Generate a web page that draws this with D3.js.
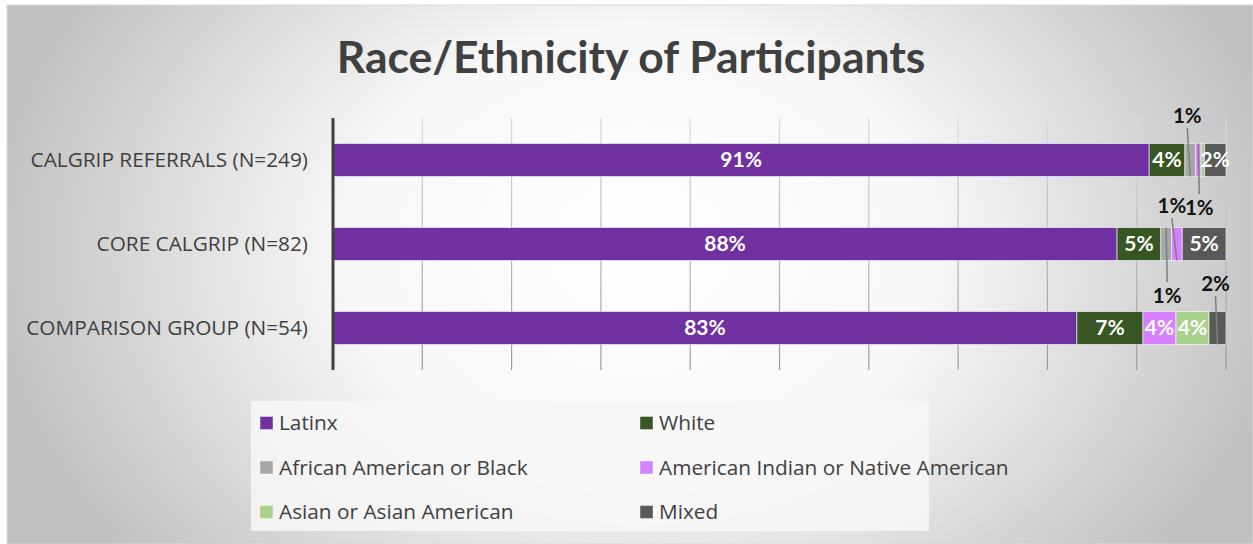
<html>
<head>
<style>
  body { margin: 0; background: #fff; }
  svg text { font-family: "Open Sans", Lato, sans-serif; }
</style>
</head>
<body>
  <div id = 'chart'></div>
  <script src = 'https://d3js.org/d3.v7.min.js'></script>
  <script>
    // groups (top to bottom)
    var groups = ['CALGRIP REFERRALS (N=249)', 'CORE CALGRIP (N=82)', 'COMPARISON GROUP (N=54)'];
    // series names, in stacking order
    var seriesNames = ['Latinx', 'White', 'African American or Black', 'American Indian or Native American', 'Asian or Asian American', 'Mixed'];
    var seriesColors = ['#7030a0', '#375623', '#a6a6a6', '#d580ff', '#a9d18e', '#595959'];
    // percent values per series, one per group
    var latinx   = [91.4, 87.8, 83.3];
    var white    = [4.0, 4.9, 7.4];
    var africanAm = [1.2, 1.2, 0];
    var amIndian = [0.6, 1.2, 3.7];
    var asian    = [0.4, 0, 3.7];
    var mixed    = [2.4, 4.9, 1.9];
    var xTicks = [10, 20, 30, 40, 50, 60, 70, 80, 90, 100];

    var seriesValues = [latinx, white, africanAm, amIndian, asian, mixed];

    // labels of thin segments sit outside the bar, with a leader line
    // key: group index + '-' + series index -> label offset from segment centre
    var outsideLabels = {
      '0-2': {dx: -3, dy: -44},
      '0-3': {dx: 1, dy: 48},
      '1-2': {dx: 1, dy: 52},
      '1-3': {dx: -5, dy: -38},
      '2-5': {dx: -2, dy: -44}
    };

    var width = 1253, height = 544;
    var svg = d3.select('#chart').append('svg')
      .attr('width', width)
      .attr('height', height);

    var defs = svg.append('defs');
    var bg = defs.append('radialGradient')
      .attr('id', 'bg')
      .attr('gradientUnits', 'userSpaceOnUse')
      .attr('cx', 640).attr('cy', 250).attr('r', 660)
      .attr('gradientTransform', 'translate(640,250) scale(1,0.75) translate(-640,-250)');
    bg.append('stop').attr('offset', '0').attr('stop-color', '#ffffff');
    bg.append('stop').attr('offset', '0.45').attr('stop-color', '#f7f7f7');
    bg.append('stop').attr('offset', '1').attr('stop-color', '#c0c0c0');

    var gridGrad = defs.append('linearGradient')
      .attr('id', 'grid')
      .attr('gradientUnits', 'userSpaceOnUse')
      .attr('x1', 0).attr('y1', 118).attr('x2', 0).attr('y2', 370);
    gridGrad.append('stop').attr('offset', '0').attr('stop-color', '#dadada');
    gridGrad.append('stop').attr('offset', '1').attr('stop-color', '#9a9a9a');

    svg.append('rect')
      .attr('x', 7).attr('y', 5)
      .attr('width', width - 7).attr('height', height - 5)
      .attr('fill', 'url(#bg)')
      .attr('stroke', '#d9d9d9')
      .attr('stroke-width', 1);

    // title
    svg.append('text')
      .attr('x', 631)
      .attr('y', 73)
      .attr('text-anchor', 'middle')
      .attr('font-size', 44.5)
      .attr('font-weight', 'bold')
      .attr('fill', '#404040')
      .style('font-family', 'Lato, sans-serif')
      .text('Race/Ethnicity of Participants');

    var x = d3.scaleLinear().domain([0, 100]).range([333, 1226]);
    var y = d3.scaleBand().domain(groups).range([118, 370])
      .paddingInner(0.607).paddingOuter(0.3035);

    // gridlines
    svg.append('g').selectAll('line')
      .data(xTicks)
      .enter()
      .append('line')
      .attr('x1', function(d){ return x(d); })
      .attr('x2', function(d){ return x(d); })
      .attr('y1', 118)
      .attr('y2', 370)
      .attr('stroke', 'url(#grid)')
      .attr('stroke-width', 1.2);

    // stacked data
    var rows = groups.map(function(g, i){
      var row = {group: g};
      seriesNames.forEach(function(s, j){ row[s] = seriesValues[j][i]; });
      return row;
    });
    var stacked = d3.stack().keys(seriesNames)(rows);

    var layer = svg.append('g').selectAll('g')
      .data(stacked)
      .enter()
      .append('g')
      .attr('fill', function(d, j){ return seriesColors[j]; });

    layer.selectAll('rect')
      .data(function(d){ return d.filter(function(p){ return p[1] - p[0] > 0; }); })
      .enter()
      .append('rect')
      .attr('x', function(d){ return x(d[0]); })
      .attr('y', function(d){ return y(d.data.group); })
      .attr('width', function(d){ return x(d[1]) - x(d[0]); })
      .attr('height', y.bandwidth())
      .attr('stroke', 'rgba(255,255,255,0.6)')
      .attr('stroke-width', 1);

    // value labels
    var labelGroup = svg.append('g');
    stacked.forEach(function(series, j){
      series.forEach(function(p, i){
        var v = p[1] - p[0];
        if (v < 0.5) return;
        var txt = Math.round(v) + '%';
        var cx = x((p[0] + p[1]) / 2);
        var cy = y(p.data.group) + y.bandwidth() / 2;
        var off = outsideLabels[i + '-' + j];
        if (off) {
          var lx = cx + off.dx, ly = cy + off.dy;
          var edge = off.dy < 0 ? y(p.data.group) + y.bandwidth() : y(p.data.group);
          labelGroup.append('line')
            .attr('x1', lx).attr('y1', off.dy < 0 ? ly + 12 : ly - 14)
            .attr('x2', cx).attr('y2', edge)
            .attr('stroke', '#7f7f7f')
            .attr('stroke-width', 1.5);
          labelGroup.append('text')
            .attr('x', lx).attr('y', ly)
            .attr('dy', '0.35em')
            .attr('text-anchor', 'middle')
            .attr('font-size', 20.5)
            .attr('font-weight', 'bold')
            .attr('fill', '#111')
            .style('font-family', 'Lato, sans-serif')
            .text(txt);
        } else {
          labelGroup.append('text')
            .attr('x', cx).attr('y', cy)
            .attr('dy', '0.35em')
            .attr('text-anchor', 'middle')
            .attr('font-size', 21)
            .attr('font-weight', 'bold')
            .attr('fill', '#fff')
            .style('font-family', 'Lato, sans-serif')
            .text(txt);
        }
      });
    });

    // y axis line and category labels
    svg.append('line')
      .attr('x1', 333).attr('x2', 333)
      .attr('y1', 118).attr('y2', 370)
      .attr('stroke', '#404040')
      .attr('stroke-width', 3);

    svg.append('g').selectAll('text')
      .data(groups)
      .enter()
      .append('text')
      .attr('x', 308)
      .attr('y', function(d){ return y(d) + y.bandwidth() / 2; })
      .attr('dy', '0.35em')
      .attr('text-anchor', 'end')
      .attr('font-size', 20.8)
      .attr('fill', '#404040')
      .text(function(d){ return d; });

    // legend
    svg.append('rect')
      .attr('x', 251).attr('y', 401)
      .attr('width', 678).attr('height', 130)
      .attr('fill', '#f7f7f7')
      .attr('fill-opacity', 0.85);

    var legend = svg.append('g').selectAll('g')
      .data(seriesNames)
      .enter()
      .append('g')
      .attr('transform', function(d, i){
        return 'translate(' + (i % 2 === 0 ? 260 : 640) + ',' + (423 + Math.floor(i / 2) * 44.5) + ')';
      });
    legend.append('rect')
      .attr('x', 0).attr('y', -6.5)
      .attr('width', 13).attr('height', 13)
      .attr('fill', function(d, i){ return seriesColors[i]; })
      .attr('stroke', 'rgba(255,255,255,0.4)');
    legend.append('text')
      .attr('x', 19)
      .attr('dy', '0.35em')
      .attr('font-size', 20.8)
      .attr('fill', '#404040')
      .text(function(d){ return d; });
  </script>
</body>
</html>
